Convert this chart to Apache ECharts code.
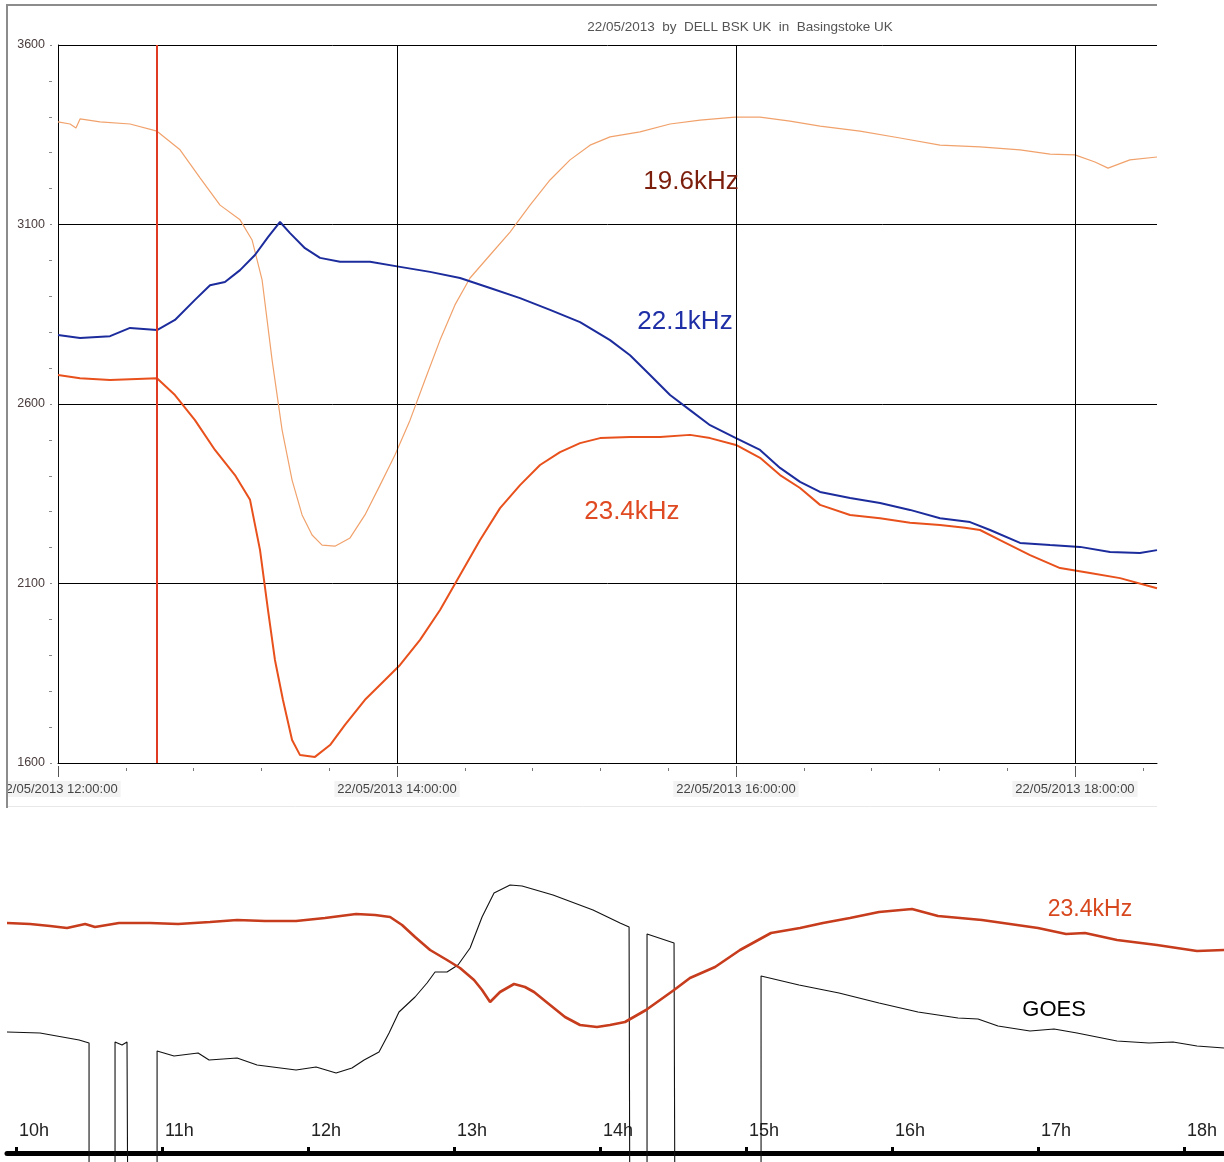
<!DOCTYPE html>
<html><head><meta charset="utf-8">
<script src="https://cdn.jsdelivr.net/npm/echarts@6/dist/echarts.min.js"></script>
<style>html,body{margin:0;padding:0;background:#fff}#c{width:1224px;height:1162px}</style>
</head><body><div id="c"></div>
<script>
// ---------- data (top chart: VLF signal strength, hours of 22/05/2013) ----------
const titleText = '22/05/2013  by  DELL BSK UK  in  Basingstoke UK';
const topTickHours = [12, 14, 16, 18];
const topMinorTickHours = [12,12.4,12.8,13.2,13.6,14,14.4,14.8,15.2,15.6,16,16.4,16.8,17.2,17.6,18,18.4];

const t196 = [12.000,12.071,12.106,12.130,12.248,12.425,12.584,12.720,12.838,12.956,13.074,13.145,13.204,13.263,13.322,13.381,13.440,13.499,13.558,13.634,13.723,13.811,13.900,13.988,14.077,14.165,14.254,14.342,14.431,14.549,14.667,14.785,14.903,15.021,15.139,15.257,15.434,15.611,15.788,15.994,16.142,16.319,16.496,16.732,16.968,17.204,17.440,17.676,17.853,18.000,18.118,18.195,18.324,18.484];
const v196 = [3386,3380,3369,3394,3386,3380,3360,3308,3230,3154,3113,3057,2946,2723,2528,2388,2291,2235,2207,2204,2227,2291,2374,2458,2555,2667,2778,2876,2951,3015,3079,3154,3224,3280,3321,3344,3358,3380,3391,3399,3399,3388,3374,3360,3341,3321,3316,3308,3296,3294,3274,3257,3280,3288];

const t221 = [12.000,12.130,12.307,12.425,12.584,12.690,12.808,12.897,12.985,13.074,13.162,13.239,13.310,13.369,13.457,13.546,13.664,13.841,14.018,14.195,14.372,14.549,14.726,14.903,15.080,15.257,15.375,15.493,15.611,15.729,15.847,16.000,16.142,16.260,16.378,16.496,16.673,16.850,17.027,17.204,17.381,17.499,17.676,17.853,18.030,18.207,18.383,18.484];
const v221 = [2792,2784,2789,2812,2806,2834,2890,2931,2940,2973,3015,3065,3107,3076,3034,3007,2996,2996,2982,2968,2951,2923,2895,2862,2828,2778,2736,2681,2625,2583,2541,2505,2472,2422,2383,2355,2338,2324,2305,2282,2271,2249,2213,2207,2202,2188,2185,2193];

const t234 = [12.000,12.130,12.307,12.584,12.690,12.808,12.926,13.044,13.133,13.192,13.239,13.280,13.327,13.381,13.428,13.516,13.605,13.693,13.811,13.929,14.018,14.136,14.254,14.372,14.490,14.608,14.726,14.844,14.962,15.080,15.198,15.375,15.552,15.729,15.847,16.000,16.142,16.260,16.378,16.496,16.673,16.850,17.027,17.204,17.351,17.440,17.558,17.735,17.912,18.089,18.266,18.484];
const v234 = [2681,2672,2667,2672,2625,2555,2472,2402,2333,2193,2026,1887,1776,1664,1622,1617,1650,1706,1776,1831,1873,1943,2026,2124,2221,2310,2374,2430,2466,2491,2505,2508,2508,2514,2505,2486,2450,2402,2366,2319,2291,2282,2269,2263,2255,2249,2221,2179,2143,2129,2115,2087];

const flareStartHour = 12.5833; // 12:35

// ---------- data (bottom chart: 23.4kHz vs GOES, relative units) ----------
const bottomTickHours = [10, 11, 12, 13, 14, 15, 16, 17, 18];
const bRedT = [9.938,10.096,10.233,10.349,10.473,10.541,10.705,10.918,11.110,11.329,11.514,11.705,11.918,12.116,12.329,12.459,12.562,12.644,12.733,12.836,12.952,13.041,13.137,13.192,13.247,13.315,13.411,13.486,13.548,13.658,13.760,13.863,13.979,14.068,14.171,14.315,14.411,14.507,14.616,14.788,14.959,15.171,15.370,15.527,15.712,15.911,16.137,16.315,16.466,16.616,16.808,17.000,17.192,17.322,17.541,17.815,18.089,18.274];
const bRedV = [230,229,227,225,229,226,230,230,229,231,233,232,232,235,239,238,236,228,216,203,193,185,173,163,151,161,169,166,161,148,136,128,126,128,131,143,153,163,175,186,203,220,225,230,235,241,244,237,235,233,229,225,219,220,213,208,202,203];

const GAP = -120; // data dropout: trace falls below the scale
const goesT = [9.938,10.164,10.432,10.500,10.500,10.678,10.678,10.726,10.760,10.767,10.966,10.966,11.082,11.247,11.322,11.514,11.651,11.918,12.055,12.192,12.301,12.384,12.486,12.555,12.623,12.733,12.815,12.870,12.952,13.027,13.110,13.192,13.274,13.384,13.466,13.678,13.952,14.137,14.199,14.205,14.322,14.322,14.507,14.514,15.103,15.103,15.363,15.637,15.911,16.178,16.452,16.589,16.726,16.945,17.110,17.267,17.541,17.760,17.925,18.089,18.274];
const goesV = [121,120,113,110,GAP,GAP,111,108,111,GAP,GAP,102,97,100,93,95,88,83,86,80,85,93,101,120,141,156,170,181,181,188,205,236,260,268,267,258,243,230,226,GAP,GAP,219,210,GAP,GAP,177,168,160,150,141,135,134,127,122,124,120,112,110,111,107,105];

// ---------- chart ----------
const zip = (t, v) => t.slice(0, Math.min(t.length, v.length)).map((x, i) => [x, v[i]]);
const FONT = '"Liberation Sans", Arial, sans-serif';
const pad2 = n => String(n).padStart(2, '0');

const chart = echarts.init(document.getElementById('c'));
const noLabel = { show: false };
const hiddenMark = { symbol: 'circle', symbolSize: 1, itemStyle: { color: 'rgba(0,0,0,0)' } };

chart.setOption({
  animation: false,
  backgroundColor: '#ffffff',
  textStyle: { fontFamily: FONT },
  title: {
    text: titleText, left: 735, top: 15, textAlign: 'center',
    textStyle: { fontSize: 13.5, fontWeight: 'normal', color: '#555', fontFamily: FONT }
  },
  grid: [
    { left: 58, top: 45, width: 1099, height: 718, containLabel: false, outerBoundsMode: 'none' },
    { left: 7, right: 0, top: 853, bottom: 0, containLabel: false, outerBoundsMode: 'none' }
  ],
  xAxis: [
    { gridIndex: 0, type: 'value', position: 'bottom', min: 12, max: 18.484,
      axisLine: { show: true, onZero: false, lineStyle: { color: '#000', width: 1 } },
      axisTick: { show: false }, axisLabel: noLabel, splitLine: { show: false } },
    { gridIndex: 0, type: 'value', position: 'bottom', min: 12, max: 18.484, offset: 5,
      axisLine: { show: false, onZero: false },
      axisTick: { show: true, length: 3, customValues: topMinorTickHours, lineStyle: { color: '#777' } },
      axisLabel: noLabel, splitLine: { show: false } },
    { gridIndex: 0, type: 'value', position: 'bottom', min: 12, max: 18.484, offset: 3,
      axisLine: { show: false, onZero: false },
      axisTick: { show: true, length: 11, customValues: topTickHours, lineStyle: { color: '#555' } },
      axisLabel: { show: true, customValues: topTickHours, margin: 15, fontSize: 13, color: '#444',
        fontFamily: FONT, backgroundColor: '#f3f3f3', padding: [2, 3, 1, 3],
        formatter: v => '22/05/2013 ' + pad2(Math.round(v)) + ':00:00' },
      splitLine: { show: false } },
    { gridIndex: 1, type: 'value', position: 'bottom', min: 9.938, max: 18.274,
      axisLine: { show: true, onZero: true, lineStyle: { color: '#000', width: 5 } },
      axisTick: { show: true, inside: true, length: 6, customValues: bottomTickHours,
        lineStyle: { color: '#000', width: 3 } },
      axisLabel: { show: true, inside: true, customValues: bottomTickHours, margin: 22,
        align: 'left', padding: [0, 0, 0, 3], fontSize: 18, color: '#222', fontFamily: FONT,
        formatter: v => Math.round(v) + 'h' },
      splitLine: { show: false } }
  ],
  yAxis: [
    { gridIndex: 0, type: 'value', position: 'left', min: 1600, max: 3600, interval: 500,
      axisLine: { show: true, onZero: false, lineStyle: { color: '#000', width: 1 } },
      axisTick: { show: false }, axisLabel: noLabel,
      splitLine: { show: true, lineStyle: { color: '#000', width: 1 } } },
    { gridIndex: 0, type: 'value', position: 'left', min: 1600, max: 3600, interval: 500, offset: 6,
      axisLine: { show: false, onZero: false },
      axisTick: { show: true, length: 2, lineStyle: { color: '#888' } },
      minorTick: { show: true, splitNumber: 5, length: 3, lineStyle: { color: '#888' } },
      axisLabel: { show: true, margin: 7, fontSize: 12.5, color: '#4a3c3c', fontFamily: FONT,
        formatter: v => String(v) },
      splitLine: { show: false } },
    { gridIndex: 1, type: 'value', min: -9, max: 300, show: false }
  ],
  series: [
    { name: '19.6kHz', type: 'line', xAxisIndex: 0, yAxisIndex: 0, showSymbol: false, z: 2,
      data: zip(t196, v196), lineStyle: { color: '#f1a26c', width: 1.2 }, itemStyle: { color: '#f1a26c' },
      markLine: { silent: true, symbol: 'none', label: noLabel,
        data: [
          { xAxis: 14, lineStyle: { color: '#000', width: 1, type: 'solid' } },
          { xAxis: 16, lineStyle: { color: '#000', width: 1, type: 'solid' } },
          { xAxis: 18, lineStyle: { color: '#000', width: 1, type: 'solid' } },
          { xAxis: flareStartHour, lineStyle: { color: '#e03a22', width: 2, type: 'solid' } }
        ] },
      markPoint: Object.assign({}, hiddenMark, {
        label: { show: true, position: 'inside', formatter: '19.6kHz', color: '#7c1e0c', fontSize: 26, fontFamily: FONT },
        data: [{ coord: [15.735, 3218] }] }) },
    { name: '23.4kHz', type: 'line', xAxisIndex: 0, yAxisIndex: 0, showSymbol: false, z: 3,
      data: zip(t234, v234), lineStyle: { color: '#e8501c', width: 2 }, itemStyle: { color: '#e8501c' },
      markPoint: Object.assign({}, hiddenMark, {
        label: { show: true, position: 'inside', formatter: '23.4kHz', color: '#e04a22', fontSize: 26, fontFamily: FONT },
        data: [{ coord: [15.386, 2299] }] }) },
    { name: '22.1kHz', type: 'line', xAxisIndex: 0, yAxisIndex: 0, showSymbol: false, z: 4,
      data: zip(t221, v221), lineStyle: { color: '#1c2c9c', width: 2 }, itemStyle: { color: '#1c2c9c' },
      markPoint: Object.assign({}, hiddenMark, {
        label: { show: true, position: 'inside', formatter: '22.1kHz', color: '#1f2fa6', fontSize: 26, fontFamily: FONT },
        data: [{ coord: [15.699, 2828] }] }) },
    { name: '23.4kHz (lower)', type: 'line', xAxisIndex: 3, yAxisIndex: 2, showSymbol: false, z: 4,
      data: zip(bRedT, bRedV), lineStyle: { color: '#c63c1c', width: 2.6 }, itemStyle: { color: '#c63c1c' },
      markPoint: Object.assign({}, hiddenMark, {
        label: { show: true, position: 'inside', formatter: '23.4kHz', color: '#d8481e', fontSize: 23, fontFamily: FONT },
        data: [{ coord: [17.356, 243] }] }) },
    { name: 'GOES', type: 'line', xAxisIndex: 3, yAxisIndex: 2, showSymbol: false, z: 3, clip: true,
      data: zip(goesT, goesV), lineStyle: { color: '#111', width: 1.1 }, itemStyle: { color: '#111' },
      markPoint: Object.assign({}, hiddenMark, {
        label: { show: true, position: 'inside', formatter: 'GOES', color: '#000', fontSize: 22, fontFamily: FONT },
        data: [{ coord: [17.110, 143] }] }) }
  ],
  graphic: [
    { type: 'rect', z: 100, shape: { x: 0, y: 768, width: 6.5, height: 36 }, style: { fill: '#fff' } },
    { type: 'line', z: 101, shape: { x1: 7, y1: 5, x2: 1157, y2: 5 }, style: { stroke: '#8c8c8c', lineWidth: 2 } },
    { type: 'line', z: 101, shape: { x1: 7, y1: 4, x2: 7, y2: 808 }, style: { stroke: '#8c8c8c', lineWidth: 2 } },
    { type: 'line', z: 99, shape: { x1: 8, y1: 806.5, x2: 1157, y2: 806.5 }, style: { stroke: '#e8e8e8', lineWidth: 1 } }
  ]
});
</script>
</body></html>
